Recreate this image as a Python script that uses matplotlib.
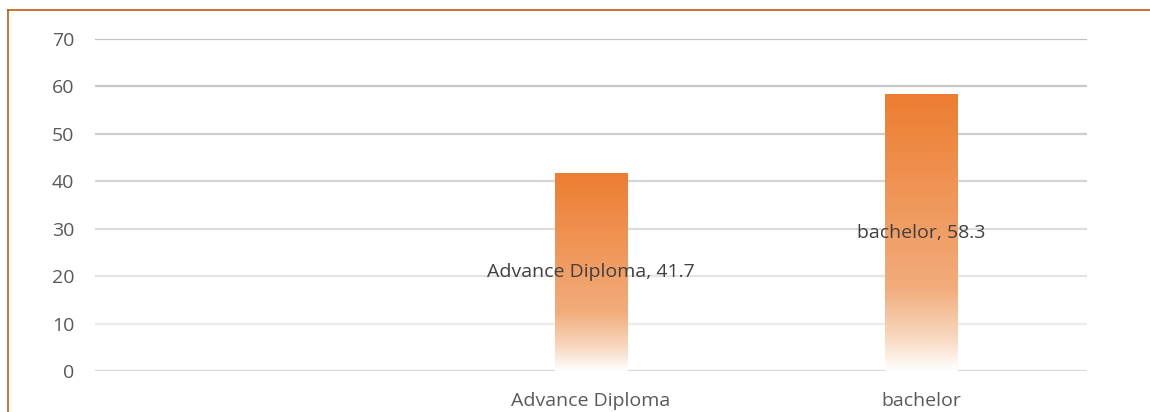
import matplotlib
matplotlib.use('Agg')
import matplotlib.pyplot as plt
import numpy as np
from matplotlib.colors import LinearSegmentedColormap
from matplotlib.lines import Line2D

categories = ['', 'Advance Diploma', 'bachelor']
values = [np.nan, 41.7, 58.3]
yticks = [0, 10, 20, 30, 40, 50, 60, 70]

plt.rcParams['font.family'] = ['Open Sans', 'DejaVu Sans']

fig = plt.figure(figsize=(11.5, 4.12), dpi=100)
ax = fig.add_axes([95 / 1150, 1 - 371 / 412, 992 / 1150, 332 / 412])

x = np.arange(len(categories))
bar_w = 0.22
ax.set_xlim(-0.5, len(categories) - 0.5)
ax.set_ylim(0, 70)

# gridlines fade from grey at top to pale at bottom
for t in yticks[1:]:
    shade = 0.95 - (t / 70) * 0.2
    ax.axhline(t, color=(shade, shade, shade), lw=1.6, zorder=0)
ax.axhline(0, color='#d9d9d9', lw=1.6, zorder=1)

cmap = LinearSegmentedColormap.from_list(
    'og', [(0, '#ffffff'), (0.12, '#f8d8c0'), (0.3, '#f2ac7b'), (1, '#ed7d31')])
grad = np.linspace(0, 1, 256).reshape(-1, 1)
for xi, v, name in zip(x, values, categories):
    if np.isnan(v):
        continue
    bars = ax.bar(xi, v, width=bar_w, color='none', zorder=2)
    rect = bars[0]
    im = ax.imshow(grad, cmap=cmap, origin='lower', aspect='auto',
                   extent=[xi - bar_w / 2, xi + bar_w / 2, 0, v], zorder=2)
    im.set_clip_path(rect)
    ax.text(xi, v / 2, f'{name}, {v}', ha='center', va='center',
            fontsize=14, color='#404040', zorder=3)

ax.set_xticks(x)
ax.set_xticklabels(categories, fontsize=14, color='#595959')
ax.set_yticks(yticks)
ax.set_yticklabels([str(t) for t in yticks], fontsize=14, color='#595959')
ax.tick_params(length=0)
ax.tick_params(axis='y', pad=15)
ax.tick_params(axis='x', pad=15)
for s in ax.spines.values():
    s.set_visible(False)

# outer chart border (top and left visible)
fig.add_artist(Line2D([7.5 / 1150, 1], [1 - 9.5 / 412, 1 - 9.5 / 412], color='#c55a11', lw=1.2))
fig.add_artist(Line2D([7.5 / 1150, 7.5 / 1150], [0, 1 - 9.5 / 412], color='#c55a11', lw=1.2))

fig.savefig('out.png', dpi=100)
